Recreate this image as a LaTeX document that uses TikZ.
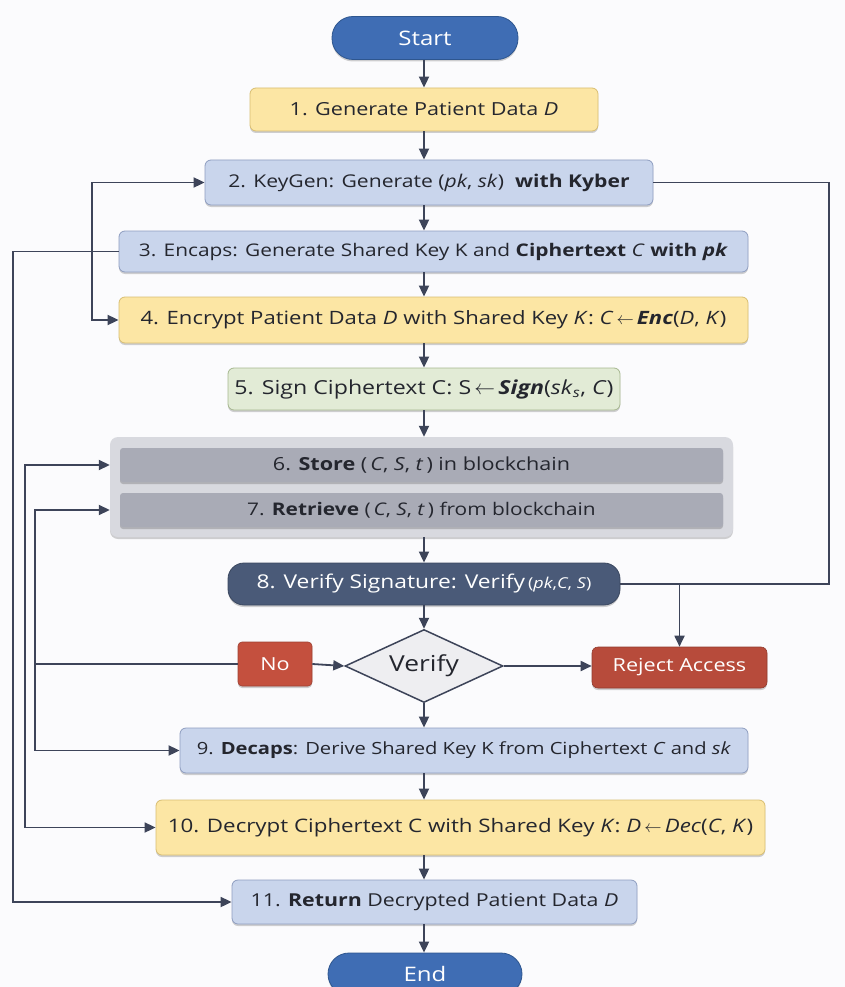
\documentclass[tikz,border=0pt]{standalone}
\usepackage{fontspec}
\setmainfont{Open Sans}[FakeStretch=1.2]
\usetikzlibrary{arrows.meta,shapes.geometric,shadows}
\definecolor{bg}{HTML}{FBFBFD}
\definecolor{lnc}{HTML}{3D4459}
\definecolor{pillc}{HTML}{3F6DB4}
\definecolor{pilld}{HTML}{2E568F}
\definecolor{yel}{HTML}{FCE6A4}
\definecolor{yeld}{HTML}{D8BE72}
\definecolor{lblue}{HTML}{C9D5EC}
\definecolor{lblued}{HTML}{8E9DC0}
\definecolor{lgreen}{HTML}{E2EBD6}
\definecolor{lgreend}{HTML}{A6B78F}
\definecolor{contc}{HTML}{D8D9DF}
\definecolor{rowc}{HTML}{A9ABB6}
\definecolor{darkb}{HTML}{4A5A78}
\definecolor{diac}{HTML}{EEEEF1}
\definecolor{noc}{HTML}{C4503E}
\definecolor{rejc}{HTML}{B74B3B}
\definecolor{txt}{HTML}{24262E}
\newcommand{\la}{\,$\leftarrow$\,}
\newcommand{\fs}[1]{\fontsize{#1}{#1}\selectfont}
\tikzset{
  shad/.style={drop shadow={shadow xshift=0pt, shadow yshift=-2pt, opacity=0.18, fill=black}},
  box/.style={rounded corners=6pt, draw, line width=0.8pt, inner sep=0pt, align=center,
    text=txt, font=\fs{18}, shad},
  yelbox/.style={box, fill=yel, draw=yeld},
  bluebox/.style={box, fill=lblue, draw=lblued},
  pill/.style={rounded corners=21pt, fill=pillc, draw=pilld, line width=0.8pt, text=white,
    font=\fs{20}, inner sep=0pt, shad},
  arr/.style={draw=lnc, line width=1.8pt, -{Triangle[length=11pt,width=10pt]}},
  arrb/.style={draw=lnc, line width=1.8pt, {Triangle[length=11pt,width=10pt]}-{Triangle[length=11pt,width=10pt]}},
  plain/.style={draw=lnc, line width=1.8pt},
}
\begin{document}
\begin{tikzpicture}[x=1pt,y=-1pt]
\useasboundingbox (0,0) rectangle (845,987);
\clip (0,0) rectangle (845,987);
\fill[bg] (0,0) rectangle (845,987);
\coordinate (ax) at (424,0);

\node[pill, minimum width=186pt, minimum height=43pt] (start) at (425,38) {Start};
\node[yelbox, minimum width=348pt, minimum height=43pt] (b1) at (424,109.5) {1. Generate Patient Data \textit{D}};
\node[bluebox, minimum width=448pt, minimum height=45pt, font=\fs{17.6}] (b2) at (429,182.5) {2. KeyGen: Generate (\textit{pk}, \textit{sk})\ \ \textbf{with Kyber}};
\node[bluebox, minimum width=629pt, minimum height=41pt, font=\fs{17.4}] (b3) at (433.5,251.5) {3. Encaps: Generate Shared Key K and \textbf{Ciphertext} \textit{C} \textbf{with} \textbf{\textit{pk}}};
\node[yelbox, minimum width=629pt, minimum height=46pt, font=\fs{18.4}] (b4) at (433.5,320) {4. Encrypt Patient Data \textit{D} with Shared Key \textit{K}: \textit{C}\la\textbf{\textit{Enc}}(\textit{D}, \textit{K})};
\node[box, fill=lgreen, draw=lgreend, minimum width=392pt, minimum height=42pt, font=\fs{19.3}] (b5) at (424,389) {5. Sign Ciphertext C: S\la\textbf{\textit{Sign}}(\textit{sk}\textsubscript{\textit{s}}, \textit{C})};

\node[rounded corners=8pt, fill=contc, draw=none, minimum width=623pt, minimum height=100pt, inner sep=0pt, shad] (cont) at (421.5,487) {};
\node[box, rounded corners=3pt, fill=rowc, draw=none, minimum width=603pt, minimum height=34pt, drop shadow={opacity=0}] (r6) at (421.5,465) {6. \textbf{Store} (\,\textit{C}, \textit{S}, \textit{t}\,) in blockchain};
\node[box, rounded corners=3pt, fill=rowc, draw=none, minimum width=603pt, minimum height=34pt, font=\fs{17.4}, drop shadow={opacity=0}] (r7) at (421.5,510) {7. \textbf{Retrieve} (\,\textit{C}, \textit{S}, \textit{t}\,) from blockchain};

\node[box, rounded corners=16pt, fill=darkb, draw=darkb!80!black, text=white, minimum width=392pt, minimum height=42pt, font=\fs{19}] (b8) at (424,584) {8. Verify Signature: Verify\,{\fs{15}(\textit{pk},\textit{C}, \textit{S})}};

\node[diamond, draw=lnc, fill=diac, line width=1.5pt, inner sep=0pt, shape aspect=2.2, minimum width=158pt, minimum height=73pt, text=txt, font=\fs{22}] (dia) at (424,666) {Verify};
\node[rounded corners=4pt, fill=noc, draw=noc!80!black, line width=0.6pt, minimum width=74pt, minimum height=44pt, inner sep=0pt, text=white, font=\fs{18}, shad] (no) at (275,664) {No};
\node[rounded corners=6pt, fill=rejc, draw=rejc!80!black, line width=0.6pt, minimum width=175pt, minimum height=41pt, inner sep=0pt, text=white, font=\fs{18}, shad] (rej) at (679.5,667.5) {Reject Access};

\node[bluebox, minimum width=568pt, minimum height=45pt, font=\fs{16.8}] (b9) at (464,750.5) {9. \textbf{Decaps}: Derive Shared Key K from Ciphertext \textit{C} and \textit{sk}};
\node[yelbox, minimum width=609pt, minimum height=55pt, font=\fs{18.6}] (b10) at (460.5,827.5) {10. Decrypt Ciphertext C with Shared Key \textit{K}:\ \textit{D}\la\textit{Dec}(\textit{C}, \textit{K})};
\node[bluebox, minimum width=405pt, minimum height=44pt, font=\fs{17.8}] (b11) at (434.5,902) {11. \textbf{Return} Decrypted Patient Data \textit{D}};
\node[pill, minimum width=194pt, minimum height=42pt] (end) at (425,974) {End};

% main vertical flow
\draw[arr] (ax |- start.south) -- (ax |- b1.north);
\draw[arr] (ax |- b1.south) -- (ax |- b2.north);
\draw[arr] (ax |- b2.south) -- (ax |- b3.north);
\draw[arr] (ax |- b3.south) -- (ax |- b4.north);
\draw[arr] (ax |- b4.south) -- (ax |- b5.north);
\draw[arr] (ax |- b5.south) -- (ax |- cont.north);
\draw[arr] (ax |- cont.south) -- (ax |- b8.north);
\draw[arr] (ax |- b8.south) -- (dia.north);
\draw[arr] (dia.south) -- (ax |- b9.north);
\draw[arr] (ax |- b9.south) -- (ax |- b10.north);
\draw[arr] (ax |- b10.south) -- (ax |- b11.north);
\draw[arr] (ax |- b11.south) -- (ax |- end.north);
\draw[arr] (no.east) -- (dia.west);
\draw[arr] (dia.east) -- (rej.west |- dia.east);

% left loops
\draw[arrb] (b2.west) -- ++(-113,0) |- (b4.west);
\draw[arr] (b3.west) -- ++(-106,0) |- (b11.west);
\draw[arrb] (cont.west |- r6.west) -- (25,465) |- (b10.west);
\draw[arrb] (cont.west |- r7.west) -- (35,510) |- (b9.west);
\draw[plain] (no.west) -- (35,664);

% right loop
\draw[plain] (b2.east) -- (829,182.5) |- (b8.east);
\draw[arr] (rej.north |- b8.east) -- (rej.north);
\end{tikzpicture}
\end{document}
